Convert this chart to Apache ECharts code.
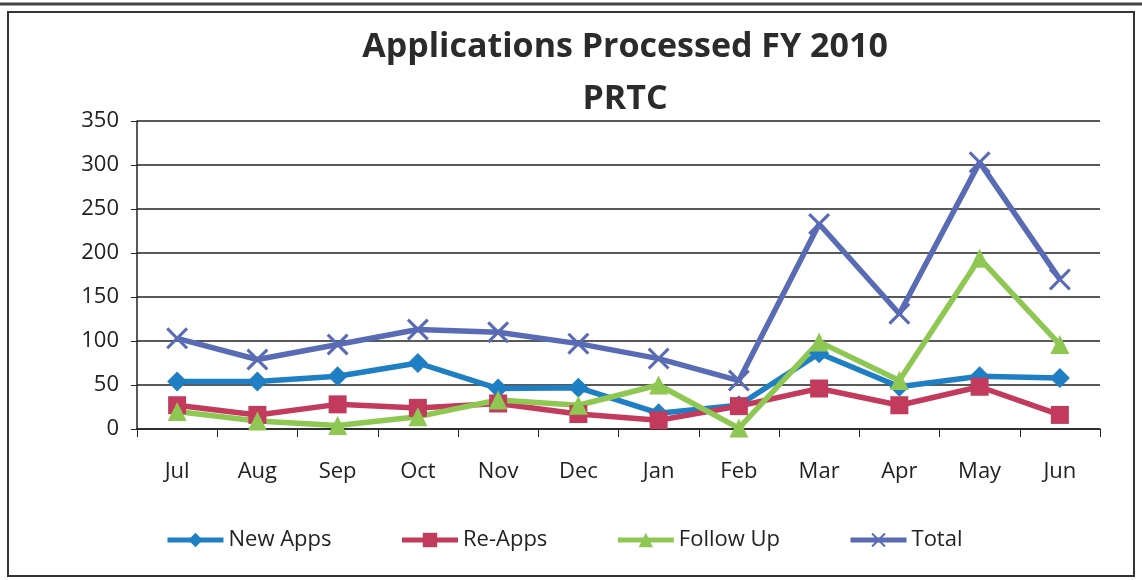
<!DOCTYPE html>
<html>
<head>
<meta charset="utf-8">
<script src="https://cdn.jsdelivr.net/npm/echarts@6/dist/echarts.min.js"></script>
<style>
  html, body { margin: 0; padding: 0; background: #fff; }
  #chart { width: 1142px; height: 580px; }
</style>
</head>
<body>
<div id="chart"></div>
<script>
const months = ["Jul", "Aug", "Sep", "Oct", "Nov", "Dec", "Jan", "Feb", "Mar", "Apr", "May", "Jun"];
const newApps = [54, 54, 60, 75, 46, 47, 18, 27, 86, 48, 60, 58];
const reApps = [27, 16, 28, 24, 29, 17, 10, 26, 46, 27, 48, 16];
const followUp = [20, 9, 4, 14, 33, 27, 50, 1, 99, 55, 194, 96];
const total = [103, 79, 96, 113, 110, 97, 80, 55, 233, 131, 303, 170];

const font = "'Open Sans', 'Noto Sans', sans-serif";
const xMark = "path://M0,2L2,0L10,8L18,0L20,2L12,10L20,18L18,20L10,12L2,20L0,18L8,10Z";

const myChart = echarts.init(document.getElementById("chart"));

function makeSeries(name, data, color, symbol, size) {
  return {
    name: name,
    type: "line",
    data: data,
    symbol: symbol,
    symbolSize: size,
    lineStyle: { color: color, width: 5.5 },
    itemStyle: { color: color },
    z: 3,
  };
}

const option = {
  backgroundColor: "#fff",
  animation: false,
  title: {
    text: "Applications Processed FY 2010\nPRTC",
    left: 620,
    top: 16,
    textAlign: "center",
    textStyle: {
      fontFamily: font,
      fontSize: 34,
      fontWeight: "bold",
      color: "#2b2b2b",
      lineHeight: 52,
    },
  },
  graphic: [
    {
      type: "rect",
      shape: { x: 8, y: 12, width: 1126, height: 564 },
      style: { fill: "none", stroke: "#333", lineWidth: 2 },
    },
    {
      type: "line",
      shape: { x1: 0, y1: 4, x2: 1142, y2: 4 },
      style: { stroke: "#444", lineWidth: 3 },
    },
  ],
  grid: {
    left: 137,
    right: 42,
    top: 121,
    bottom: 151,
  },
  legend: {
    bottom: 24,
    left: 160,
    itemWidth: 56,
    itemHeight: 18,
    itemGap: 68,
    lineStyle: { width: 5 },
    textStyle: { fontFamily: font, fontSize: 22, color: "#222" },
    data: ["New Apps", "Re-Apps", "Follow Up", "Total"],
  },
  xAxis: {
    type: "category",
    data: months,
    boundaryGap: true,
    axisLine: { lineStyle: { color: "#222", width: 1.5 } },
    axisTick: { show: true, length: 8, lineStyle: { color: "#222" } },
    axisLabel: {
      margin: 32,
      fontFamily: font,
      fontSize: 22,
      color: "#222",
    },
  },
  yAxis: {
    type: "value",
    min: 0,
    max: 350,
    interval: 50,
    axisLine: { show: true, lineStyle: { color: "#222", width: 1.5 } },
    axisTick: { show: true, length: 6, lineStyle: { color: "#222" } },
    splitLine: { lineStyle: { color: "#222", width: 1.5 } },
    axisLabel: {
      margin: 18,
      fontFamily: font,
      fontSize: 22,
      color: "#222",
    },
  },
  series: [
    makeSeries("New Apps", newApps, "#1f7fc4", "diamond", 20),
    makeSeries("Re-Apps", reApps, "#c23b5d", "rect", 18),
    makeSeries("Follow Up", followUp, "#8fc753", "triangle", 19),
    makeSeries("Total", total, "#5a6bb5", xMark, 22),
  ],
};

myChart.setOption(option);
</script>
</body>
</html>
